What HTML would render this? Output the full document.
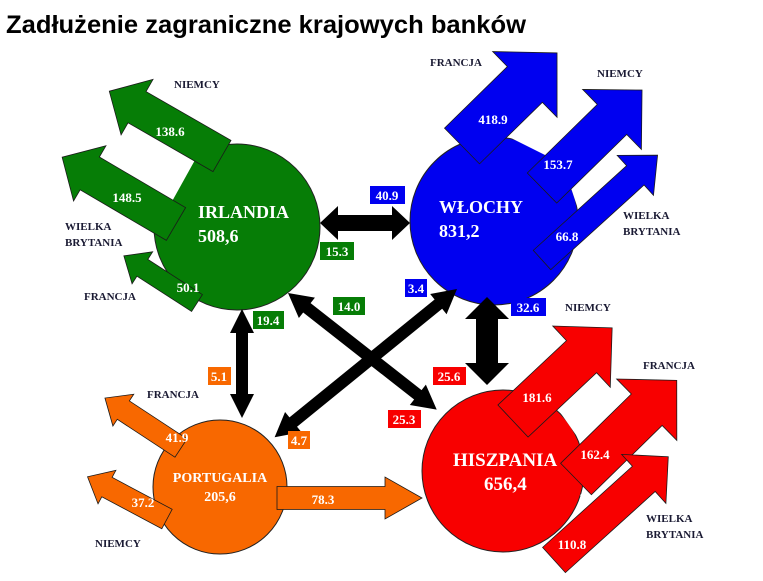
<!DOCTYPE html>
<html><head><meta charset="utf-8"><style>
body{margin:0;background:#fff;width:763px;height:581px;overflow:hidden}
svg{display:block}
.t{font-family:"Liberation Sans",sans-serif;font-weight:bold;font-size:25px;fill:#000}
.c{font-family:"Liberation Serif",serif;font-weight:bold;font-size:11px;fill:#1a1a33}
.v{font-family:"Liberation Serif",serif;font-weight:bold;font-size:13px;fill:#fff;text-anchor:middle}
.b{font-family:"Liberation Serif",serif;font-weight:bold;font-size:13px;fill:#fff;text-anchor:middle}
.n{font-family:"Liberation Serif",serif;font-weight:bold;font-size:18px;fill:#fff}
</style></head><body>
<svg width="763" height="581" viewBox="0 0 763 581">
<text class="t" x="6" y="33" textLength="520" lengthAdjust="spacingAndGlyphs">Zadłużenie zagraniczne krajowych banków</text>

<!-- circles -->
<circle cx="237" cy="227" r="83" fill="#067d06" stroke="#222" stroke-width="1"/>
<circle cx="494" cy="221" r="84" fill="#0000f0" stroke="#222" stroke-width="1"/>
<circle cx="503" cy="471" r="81" fill="#f80000" stroke="#222" stroke-width="1"/>
<circle cx="220" cy="487" r="67" fill="#f86800" stroke="#222" stroke-width="1"/>

<!-- white gaps -->
<g fill="#fff">
<polygon points="120,120 195,160 170,205 95,160"/>
<polygon points="555,90 505,135 555,160 605,100"/>
<polygon points="570,185 580,215 630,170 615,155"/>
<polygon points="555,405 583,445 635,390 600,365"/>
<polygon points="580,495 590,510 635,475 625,465"/>
</g>

<!-- green arrows -->
<g fill="#067d06" stroke="#1a1a1a" stroke-width="0.8">
<polygon transform="translate(222,156) rotate(209.9)" points="0,-18 98,-18 98,-32 130,0 98,32 98,18 0,18"/>
<polygon transform="translate(176,224) rotate(210.4)" points="0,-19 100,-19 100,-32 132,0 100,32 100,19 0,19"/>
<polygon transform="translate(197,303) rotate(212.8)" points="0,-10 65,-10 65,-19 87,0 65,19 65,10 0,10"/>
</g>
<!-- blue arrows -->
<g fill="#0000f0" stroke="#1a1a1a" stroke-width="0.8">
<polygon transform="translate(462,146) rotate(-44.4)" points="0,-25 88,-25 88,-46 133,0 88,46 88,25 0,25"/>
<polygon transform="translate(542,188) rotate(-44.4)" points="0,-21 98,-21 98,-42 140,0 98,42 98,21 0,21"/>
<polygon transform="translate(542,260) rotate(-42.2)" points="0,-13 126,-13 126,-27 156,0 126,27 126,13 0,13"/>
</g>
<!-- red arrows -->
<g fill="#f80000" stroke="#1a1a1a" stroke-width="0.8">
<polygon transform="translate(513,421) rotate(-43.2)" points="0,-22 94,-22 94,-42 136,0 94,42 94,22 0,22"/>
<polygon transform="translate(576,479) rotate(-44.4)" points="0,-22 99,-22 99,-43 141,0 99,43 99,22 0,22"/>
<polygon transform="translate(554,560) rotate(-42.1)" points="0,-17 121,-17 121,-33 154,0 121,33 121,17 0,17"/>
</g>
<!-- orange arrows -->
<g fill="#f86800" stroke="#1a1a1a" stroke-width="0.8">
<polygon transform="translate(181,448) rotate(213.3)" points="0,-11 69,-11 69,-19 91,0 69,19 69,11 0,11"/>
<polygon transform="translate(167,519) rotate(208)" points="0,-11 68,-11 68,-19 90,0 68,19 68,11 0,11"/>
<polygon transform="translate(277,498) rotate(0)" points="0,-11.5 108,-11.5 108,-21 145,0 108,21 108,11.5 0,11.5"/>
</g>

<!-- black double arrows -->
<g fill="#000">
<polygon transform="translate(320,223)" points="0,0 18,-17 18,-8 72,-8 72,-17 90,0 72,17 72,8 18,8 18,17"/>
<polygon transform="translate(487,297) rotate(90)" points="0,0 22,-22 22,-11 66,-11 66,-22 88,0 66,22 66,11 22,11 22,22"/>
<polygon transform="translate(242,309) rotate(90)" points="0,0 24,-12 24,-6 85,-6 85,-12 109,0 85,12 85,6 24,6 24,12"/>
<polygon transform="translate(288,293) rotate(38.1)" points="0,0 24,-13 24,-6 165,-6 165,-13 189,0 165,13 165,6 24,6 24,13"/>
<polygon transform="translate(457,289) rotate(140.9)" points="0,0 24,-13 24,-6 211,-6 211,-13 235,0 211,13 211,6 24,6 24,13"/>
</g>

<!-- small value boxes -->
<g>
<rect x="370" y="186" width="35" height="18" fill="#0000f0"/><text class="b" x="387" y="200">40.9</text>
<rect x="320" y="242" width="34" height="18" fill="#067d06"/><text class="b" x="337" y="256">15.3</text>
<rect x="333" y="297" width="32" height="18" fill="#067d06"/><text class="b" x="349" y="311">14.0</text>
<rect x="405" y="279" width="22" height="18" fill="#0000f0"/><text class="b" x="416" y="293">3.4</text>
<rect x="511" y="298" width="35" height="18" fill="#0000f0"/><text class="b" x="528" y="312">32.6</text>
<rect x="253" y="311" width="31" height="18" fill="#067d06"/><text class="b" x="268" y="325">19.4</text>
<rect x="208" y="367" width="23" height="18" fill="#f86800"/><text class="b" x="219" y="381">5.1</text>
<rect x="433" y="367" width="33" height="18" fill="#f80000"/><text class="b" x="449" y="381">25.6</text>
<rect x="388" y="410" width="33" height="18" fill="#f80000"/><text class="b" x="404" y="424">25.3</text>
<rect x="288" y="431" width="22" height="18" fill="#f86800"/><text class="b" x="299" y="445">4.7</text>
</g>

<!-- values on arrows -->
<text class="v" x="170" y="136">138.6</text>
<text class="v" x="127" y="202">148.5</text>
<text class="v" x="188" y="292">50.1</text>
<text class="v" x="493" y="124">418.9</text>
<text class="v" x="558" y="169">153.7</text>
<text class="v" x="567" y="241">66.8</text>
<text class="v" x="537" y="402">181.6</text>
<text class="v" x="595" y="459">162.4</text>
<text class="v" x="572" y="549">110.8</text>
<text class="v" x="177" y="442">41.9</text>
<text class="v" x="143" y="507">37.2</text>
<text class="v" x="323" y="504">78.3</text>

<!-- circle labels -->
<text class="n" x="198" y="218">IRLANDIA</text>
<text class="n" x="198" y="242">508,6</text>
<text class="n" x="439" y="213">WŁOCHY</text>
<text class="n" x="439" y="237">831,2</text>
<text class="n" x="453" y="466" style="font-size:19px">HISZPANIA</text>
<text class="n" x="484" y="490" style="font-size:19px">656,4</text>
<text class="n" x="220" y="482" style="font-size:14px;text-anchor:middle">PORTUGALIA</text>
<text class="n" x="220" y="501" style="font-size:14px;text-anchor:middle">205,6</text>

<!-- country labels -->
<text class="c" x="174" y="88">NIEMCY</text>
<text class="c" x="65" y="230">WIELKA</text>
<text class="c" x="65" y="246">BRYTANIA</text>
<text class="c" x="84" y="300">FRANCJA</text>
<text class="c" x="430" y="66">FRANCJA</text>
<text class="c" x="597" y="77">NIEMCY</text>
<text class="c" x="623" y="219">WIELKA</text>
<text class="c" x="623" y="235">BRYTANIA</text>
<text class="c" x="565" y="311">NIEMCY</text>
<text class="c" x="643" y="369">FRANCJA</text>
<text class="c" x="646" y="522">WIELKA</text>
<text class="c" x="646" y="538">BRYTANIA</text>
<text class="c" x="147" y="398">FRANCJA</text>
<text class="c" x="95" y="547">NIEMCY</text>
</svg>
</body></html>
